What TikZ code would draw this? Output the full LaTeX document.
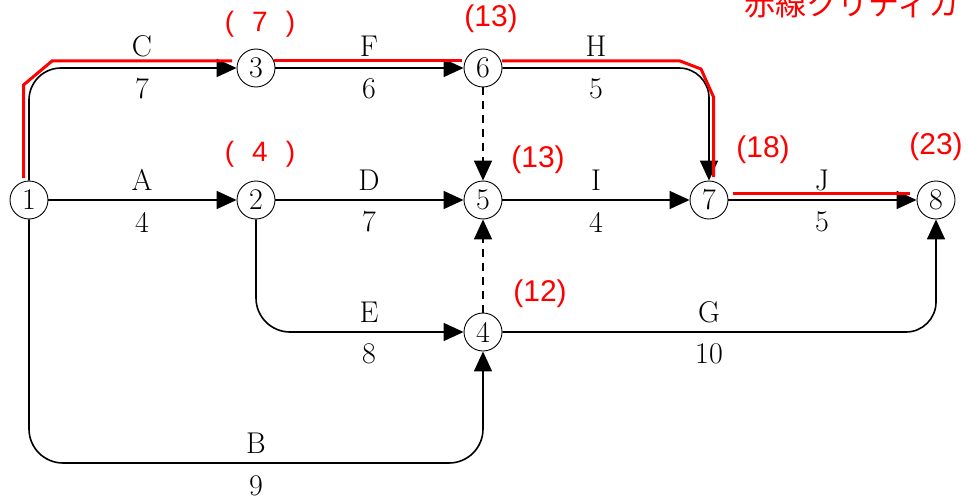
\documentclass[tikz,border=0pt]{standalone}
\usepackage{fontspec}
\newfontfamily\redfont{Liberation Sans}
\newfontfamily\jpfont{Noto Sans CJK JP}
\usetikzlibrary{arrows.meta,calc}
\begin{document}
\begin{tikzpicture}[x=1pt,y=-1pt,
  evt/.style={circle,draw,line width=0.9pt,minimum size=38pt,inner sep=0pt,font=\fontsize{30}{32}\selectfont},
  act/.style={line width=1.6pt,-{Triangle[length=20pt,width=18pt]}},
  dum/.style={act,dash pattern=on 8pt off 6pt},
  lbl/.style={inner sep=0pt,font=\fontsize{30}{32}\selectfont},
  crit/.style={red,line width=3pt},
  rtxt/.style={red,inner sep=0pt,font=\redfont\fontsize{30}{32}\selectfont},
  rpar/.style={red,inner sep=0pt,font=\redfont\fontsize{28}{30}\selectfont},
]
\useasboundingbox (0,0) rectangle (968,500);

% events
\node[evt] (n1) at (29,200) {1};
\node[evt] (n2) at (256,200) {2};
\node[evt] (n3) at (256,68) {3};
\node[evt] (n6) at (483,68) {6};
\node[evt] (n5) at (483,200) {5};
\node[evt] (n4) at (483,332) {4};
\node[evt] (n7) at (709,200) {7};
\node[evt] (n8) at (936,200) {8};
\coordinate (bcorner) at (29,463);

% activities
\draw[act,rounded corners=32pt] (n1) |- (n3);
\draw[act] (n1) -- (n2);
\draw[act] (n3) -- (n6);
\draw[act,rounded corners=30pt] (n6) -| (n7);
\draw[act] (n2) -- (n5);
\draw[act] (n5) -- (n7);
\draw[act] (n7) -- (n8);
\draw[act,rounded corners=34pt] (n2) |- (n4);
\draw[act,rounded corners=30pt] (n4) -| (n8);
\draw[act,rounded corners=34pt] (n1) -- (bcorner) -| (n4);
\draw[dum] (n6) -- (n5);
\draw[dum] (n4) -- (n5);

% critical path overlay
\draw[crit] ($(n1)+(-5.5,-22)$) -- ($(n1)+(-5.5,-115)$) -- ($(n1)+(23,-139)$) -- ($(n3)+(-24,-7)$);
\draw[crit] ($(n3)+(18,-7)$) -- ($(n6)+(-21,-7)$);
\draw[crit] ($(n6)+(19,-7)$) -- ($(n7)+(-29,-139)$) -- ($(n7)+(-8,-131)$) -- ($(n7)+(4.5,-103)$) -- ($(n7)+(4.5,-23)$);
\draw[crit] ($(n7)+(24,-7)$) -- ($(n8)+(-26,-7)$);

% activity labels
\node[lbl] (lC) at (142,46) {C};  \node[lbl] (dC) at (142,89) {7};
\node[lbl] (lA) at (142,180) {A}; \node[lbl] (dA) at (142,222) {4};
\node[lbl] (lF) at (369,46) {F};  \node[lbl] (dF) at (369,89) {6};
\node[lbl] (lH) at (596,46) {H};  \node[lbl] (dH) at (596,89) {5};
\node[lbl] (lD) at (369,180) {D}; \node[lbl] (dD) at (369,222) {7};
\node[lbl] (lI) at (596,180) {I}; \node[lbl] (dI) at (596,222) {4};
\node[lbl] (lJ) at (822,180) {J}; \node[lbl] (dJ) at (822,222) {5};
\node[lbl] (lE) at (369,312) {E}; \node[lbl] (dE) at (369,354) {8};
\node[lbl] (lG) at (709,312) {G}; \node[lbl] (dG) at (709,354) {10};
\node[lbl] (lB) at (256,443) {B}; \node[lbl] (dB) at (256,486) {9};

% earliest times
\node[rpar] (t3) at (260,24) {(\hspace{18pt}7\hspace{18pt})};
\node[rpar] (t2) at (260,154) {(\hspace{18pt}4\hspace{18pt})};
\node[rtxt] (t6) at (491,19) {(13)};
\node[rtxt] (t5) at (538,160) {(13)};
\node[rtxt] (t4) at (540,294) {(12)};
\node[rtxt] (t7) at (763,150) {(18)};
\node[rtxt] (t8) at (936,147) {(23)};
\node[red,inner sep=0pt,anchor=base west,font=\jpfont\fontsize{31}{33}\selectfont] (title) at (744,16) {赤線クリティカ};
\end{tikzpicture}
\end{document}
